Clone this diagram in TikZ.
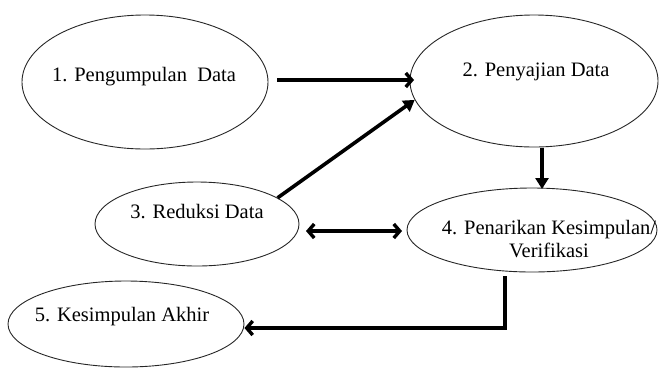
\documentclass[tikz,border=0pt]{standalone}
\usepackage{fontspec}
\setmainfont{Liberation Serif}
\usetikzlibrary{shapes.geometric,arrows.meta,calc}
\begin{document}
\begin{tikzpicture}[x=1pt,y=-1pt,
  ell/.style={draw=black!85,ellipse,line width=0.9pt,inner sep=0pt},
  lbl/.style={font=\fontsize{20.5}{24}\selectfont,inner sep=0pt,align=center},
  barb/.style={line width=3.6pt,-{Straight Barb[length=6pt,width=14pt,line width=3.4pt]}},
  dbarb/.style={line width=3.6pt,{Straight Barb[length=6pt,width=14pt,line width=3.4pt]}-{Straight Barb[length=6pt,width=14pt,line width=3.4pt]}},
  tri/.style={line width=3.6pt,-{Triangle[length=11pt,width=13pt]}}]
\useasboundingbox (0,0) rectangle (660,368);
\node[ell,minimum width=246pt,minimum height=134pt] (e1) at (145,82) {};
\node[ell,minimum width=248pt,minimum height=132pt] (e2) at (534,81) {};
\node[ell,minimum width=204pt,minimum height=84pt] (e3) at (197,224) {};
\node[ell,minimum width=250pt,minimum height=84pt] (e4) at (532,230) {};
\node[ell,minimum width=236pt,minimum height=86pt] (e5) at (126,324) {};
\node[lbl] (t1) at (144,77) {1. Pengumpulan\ \ Data};
\node[lbl] (t2) at (536,72) {2. Penyajian Data};
\node[lbl] (t3) at (197,212) {3. Reduksi Data};
\node[lbl] (t4) at (549,239) {4. Penarikan Kesimpulan/\\[-1pt]Verifikasi};
\node[lbl] (t5) at (122,317) {5. Kesimpulan Akhir};
\coordinate (c45) at (505,328);
\coordinate (c24a) at (542,148);
\coordinate (c24b) at (542,189);
\coordinate (c12a) at (277,80);
\coordinate (c12b) at (414,80);
\coordinate (c34a) at (306,231);
\coordinate (c34b) at (402,231);
\coordinate (c45a) at (505,276);
\draw[barb] (c12a) -- (c12b);
\draw[tri] (e3.18.6) -- (e2.189);
\draw[tri] (c24a) -- (c24b);
\draw[dbarb] (c34a) -- (c34b);
\draw[barb] (c45a) -- (c45) -- (c45 -| e5.east);
\end{tikzpicture}
\end{document}
